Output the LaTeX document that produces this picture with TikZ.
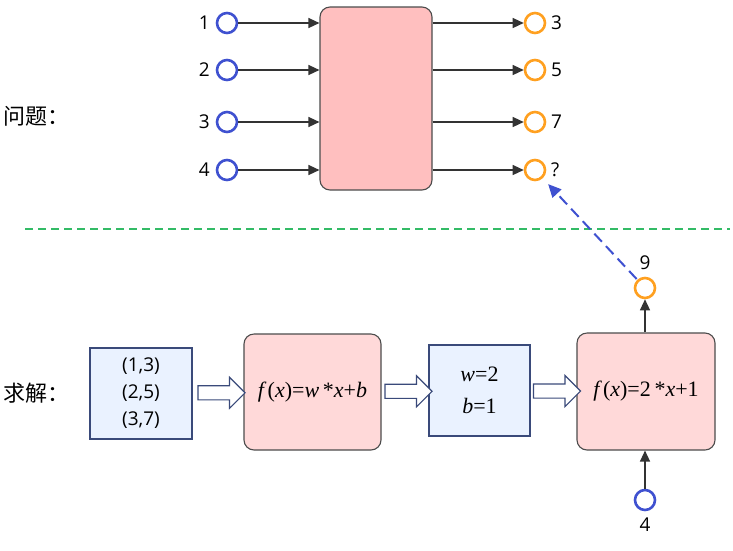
\documentclass[tikz,border=0pt]{standalone}
\usepackage{fontspec}
\setmainfont{Open Sans}
\newfontfamily\cjk{Noto Sans CJK SC}
\newfontfamily\tms{Liberation Serif}
\usetikzlibrary{arrows.meta,shapes.arrows,calc}
\definecolor{pinkA}{HTML}{FFBFBF}
\definecolor{pinkB}{HTML}{FFD9D9}
\definecolor{lblue}{HTML}{EAF2FF}
\definecolor{bstroke}{HTML}{3A4A7A}
\definecolor{cblue}{HTML}{3F51D0}
\definecolor{corange}{HTML}{FFA020}
\definecolor{cgreen}{HTML}{33BB66}
\tikzset{
  inc/.style={circle,draw=cblue,line width=2.6pt,minimum size=20pt,inner sep=0pt},
  outc/.style={circle,draw=corange,line width=2.6pt,minimum size=20pt,inner sep=0pt},
  lbl/.style={font=\fontsize{19}{22}\selectfont,inner sep=0pt},
  conn/.style={draw=black!80,line width=1.3pt,-{Triangle[length=11pt,width=10pt]}},
  pinkbox/.style={draw=black!70,line width=1.1pt,rounded corners=10pt},
  bluebox/.style={draw=bstroke,line width=1.1pt,fill=lblue},
  hollow/.style={single arrow,draw=bstroke,fill=white,line width=1.1pt,minimum height=47pt,inner sep=6.5pt,single arrow head extend=8.5pt,outer sep=0pt},
  cn/.style={font=\cjk\fontsize{22}{26}\selectfont,inner sep=0pt,anchor=west},
  fml/.style={font=\tms\fontsize{22}{26}\selectfont,inner sep=0pt}
}
\begin{document}
\begin{tikzpicture}[x=1pt,y=-1pt]
\useasboundingbox (0,0) rectangle (733,550);
% top
\node[pinkbox,fill=pinkA,minimum width=112pt,minimum height=183pt] (big) at (376,98.5) {};
\foreach \y/\t [count=\i] in {23/1,70/2,122/3,170/4}{
  \node[inc] (in\i) at (227,\y) {};
  \node[lbl,anchor=east] (inl\i) at (210,\y) {\t};
  \draw[conn] (in\i) -- (in\i -| big.west);
}
\foreach \y/\t [count=\i] in {23/3,70/5,122/7,170/?}{
  \node[outc] (out\i) at (535,\y) {};
  \node[lbl,anchor=west] (outl\i) at (551,\y) {\t};
  \draw[conn] (out\i -| big.east) -- (out\i);
}
\node[cn] (wt) at (3,116) {问题：};
\coordinate (gl) at (25,229);
\coordinate (gr) at (730,229);
\draw[cgreen,line width=1.3pt,dash pattern=on 8pt off 5pt] (gl) -- (gr);
% bottom
\node[cn] (qj) at (3,393) {求解：};
\node[bluebox,minimum width=102pt,minimum height=91pt] (data) at (141,393.5) {};
\node[lbl,align=center,font=\fontsize{19}{27}\selectfont] (datat) at (data.center) {(1,3)\\(2,5)\\(3,7)};
\node[pinkbox,fill=pinkB,minimum width=137pt,minimum height=116pt] (f1) at (312.5,392) {};
\node[fml] (f1t) at (f1.center) {{\itshape f}\,({\itshape x})={\itshape w}\,*{\itshape x}+{\itshape b}};
\node[bluebox,minimum width=101pt,minimum height=91pt] (wb) at (479.5,390.5) {};
\node[fml,align=center,font=\tms\fontsize{22}{32}\selectfont] (wbt) at (wb.center) {{\itshape w}=2\\{\itshape b}=1};
\node[pinkbox,fill=pinkB,minimum width=138pt,minimum height=117pt] (f2) at (646,391.5) {};
\node[fml] (f2t) at (f2.center) {{\itshape f}\,({\itshape x})=2\,*{\itshape x}+1};
\node[hollow] (a1) at ($(data.east)!0.5!(f1.west)$) {};
\node[hollow] (a2) at ($(f1.east)!0.5!(wb.west)$) {};
\node[hollow] (a3) at ($(wb.east)!0.5!(f2.west)$) {};
\node[outc] (o9) at (645,288) {};
\node[lbl] (l9) at (645,263) {9};
\node[inc] (i4) at (645,500) {};
\node[lbl] (l4) at (645,525) {4};
\draw[conn] (f2.north -| o9) -- (o9);
\draw[conn] (i4) -- (i4 |- f2.south);
\draw[cblue,line width=2pt,dash pattern=on 11pt off 6pt,-{Triangle[length=13pt,width=12pt]},shorten >=8pt,shorten <=1pt] (o9) -- (out4);
\end{tikzpicture}
\end{document}
